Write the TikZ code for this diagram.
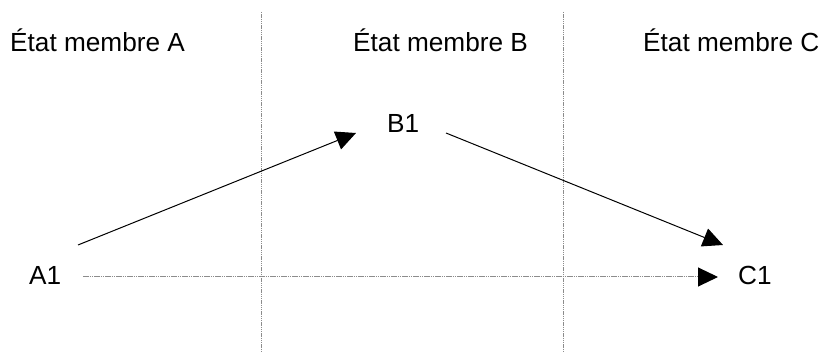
\documentclass[tikz,border=0pt]{standalone}
\usepackage{fontspec}
\setmainfont{Liberation Sans}
\usetikzlibrary{arrows.meta}
\begin{document}
\begin{tikzpicture}[x=1pt,y=1pt,
  lbl/.style={anchor=base west,inner sep=0pt,font=\fontsize{26.2}{30}\selectfont},
  sep/.style={draw=black!45,line width=1pt,dash pattern=on 1.5pt off 0.7pt},
  flow/.style={draw=black,line width=1pt,-{Triangle[length=20pt,width=19pt]}},
  dflow/.style={draw=black!45,line width=1pt,dash pattern=on 1.5pt off 0.7pt,-{Triangle[length=20pt,width=19pt,fill=black,color=black]}}]
\useasboundingbox (0,0) rectangle (823,356);
% separators
\coordinate (s1t) at (261,344);
\coordinate (s1b) at (261,3);
\coordinate (s2t) at (563,344);
\coordinate (s2b) at (563,3);
\draw[sep] (s1t) -- (s1b);
\draw[sep] (s2t) -- (s2b);
% headers
\node[lbl] (hA) at (10,304) {État membre A};
\node[lbl] (hB) at (353,304) {État membre B};
\node[lbl] (hC) at (643,304) {État membre C};
% nodes
\node[lbl] (A1) at (29,71) {A1};
\node[lbl] (B1) at (387,223) {B1};
\node[lbl] (C1) at (738,71) {C1};
% connector end points
\coordinate (a1s) at (78,111);
\coordinate (b1e) at (356,223);
\coordinate (b1s) at (446,223);
\coordinate (c1e) at (723,111);
\coordinate (a1h) at (83,79);
\coordinate (c1h) at (718,79);
\draw[flow] (a1s) -- (b1e);
\draw[flow] (b1s) -- (c1e);
\draw[dflow] (a1h) -- (c1h);
\end{tikzpicture}
\end{document}
